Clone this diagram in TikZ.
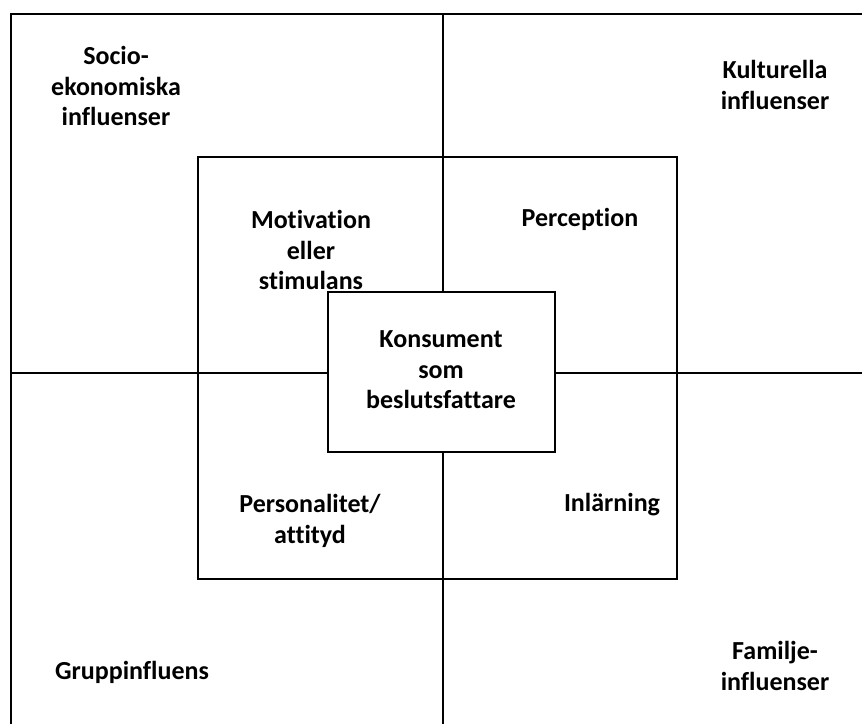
\documentclass[tikz,border=0pt]{standalone}
\usepackage{fontspec}
\setmainfont[Ligatures=NoCommon]{Carlito}
\usetikzlibrary{positioning}

\begin{document}
\begin{tikzpicture}[x=1pt,y=-1pt,line width=2.4pt,
  lbl/.style={align=center,font=\fontsize{26}{30.5}\selectfont\bfseries,inner sep=0pt}]
                % outer frame and the cross
                \coordinate(TL)at(11, 14);
                \coordinate(TR)at(862, 14);
                \coordinate(BL)at(11, 724);
                \coordinate(Top)at(443, 14);
                \coordinate(Bot)at(443, 724);
                \coordinate(West)at(11, 373);
                \coordinate(East)at(862, 373);
                \draw (BL) -- (TL) -- (TR);
                \draw (Top) -- (Bot);
                \draw (West) -- (East);
                % inner square and center box
                \node[draw=black,minimum width=479pt,minimum height=422pt,inner sep=0pt](inner)at(437.5, 368){};
                \node[draw=black,fill=white,minimum width=227pt,minimum height=160pt,inner sep=0pt](center)at(441.5, 372){};
                \node[lbl](konsument)at(441, 370){Konsument\\som\\beslutsfattare};
                % inner quadrants
                \node[lbl](motivation)at(311, 250){Motivation\\eller\\stimulans};
                \node[lbl](perception)at(580, 219){Perception};
                \node[lbl](personalitet)at(310, 521){Personalitet/\\attityd};
                \node[lbl](inlarning)at(612, 505){Inlärning};
                % outer quadrants
                \node[lbl](socio)at(116, 86){Socio-\\ekonomiska\\influenser};
                \node[lbl](kultur)at(775, 85){Kulturella\\influenser};
                \node[lbl](grupp)at(132, 672){Gruppinfluens};
                \node[lbl](familj)at(775, 666){Familje-\\influenser};
                \pgfresetboundingbox
                \useasboundingbox (0, 0) rectangle (862, 724);
            \end{tikzpicture}
\end{document}
